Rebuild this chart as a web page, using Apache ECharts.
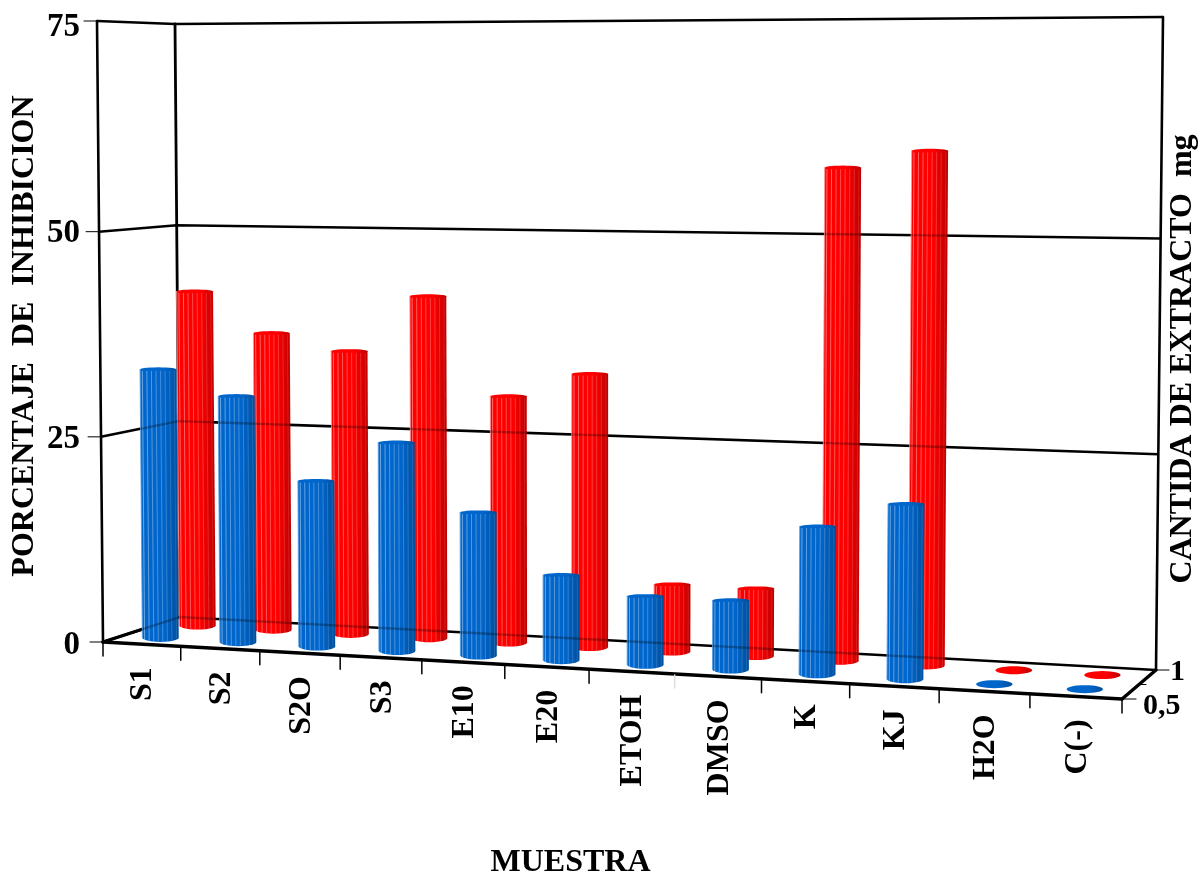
<!DOCTYPE html>
<html>
<head>
<meta charset="utf-8">
<title>Porcentaje de inhibicion</title>
<script src="https://cdn.jsdelivr.net/npm/echarts@6/dist/echarts.min.js"></script>
<style>
html,body{margin:0;padding:0;background:#fff}
#container{width:1200px;height:875px}
</style>
</head>
<body>
<div id="container"></div>
<script>
var categories=['S1','S2','S2O','S3','E10','E20','ETOH','DMSO','K','KJ','H2O','C(-)'];
var values05=[33,30,20,25,17,10,8,8,17,20,0,0];   // blue, 0,5 mg
var values1=[42,37,35,42,30,33,8,8,58,60,0,0];    // red, 1 mg
var yTicks=[0,25,50,75];
var depthLabels=['0,5','1'];

var FONT='"Liberation Serif"';
// plot box of the hidden cartesian grid
var GL=103,GT=27,GW=1019,GH=618;
// corners of the drawn box: floor and ceiling, front and back
var floorFL=[103,642],floorBL=[180,617],floorFR=[1122,699],floorBR=[1156,670];
var topFL=[97,21],topBL=[175,24],topFR=[1129,15],topBR=[1163,17];
var DEPTH_BLUE=0.25,DEPTH_RED=0.74;
var BAR_RX=18.2;

function mix(a,b,t){return [a[0]+(b[0]-a[0])*t,a[1]+(b[1]-a[1])*t];}
// the categories get wider to the right
function warp(u){return 0.908*u+0.092*u*u;}
function warpV(v){return v-0.04*v*v*(1-v);}
function project(u,v,d){
	var w=warp(u);
	var low=mix(mix(floorFL,floorFR,w),mix(floorBL,floorBR,w),d);
	var high=mix(mix(topFL,topFR,w),mix(topBL,topBR,w),d);
	return mix(low,high,warpV(v));
}
// pixel from the echarts axes -> point in the box
function toBox(api,cat,val,d){
	var p=api.coord([cat,val]);
	return project((p[0]-GL)/GW,(GT+GH-p[1])/GH,d);
}
function vOf(api,val){
	var p=api.coord([0,val]);
	return (GT+GH-p[1])/GH;
}
function line(a,b,w,color){
	return {type:'line',shape:{x1:a[0],y1:a[1],x2:b[0],y2:b[1]},style:{stroke:color||'#000',lineWidth:w,lineCap:'round'}};
}
function wallLines(api){
	var res=[];
	for(var i=0;i<yTicks.length;i++){
		var v=vOf(api,yTicks[i]);
		res.push([project(0,v,0),project(0,v,1),project(1,v,1)]);
	}
	return res;
}

function renderBox(params,api){
	var ch=[],i;
	var walls=wallLines(api);
	for(i=0;i<walls.length;i++){
		ch.push({type:'polyline',shape:{points:walls[i]},style:{stroke:'#000',fill:null,lineWidth:2.6}});
		ch.push(line([walls[i][0][0]-13,walls[i][0][1]],walls[i][0],1));
	}
	ch.push(line(project(0,0,0),project(0,1,0),2.6));
	ch.push(line(project(0,0,1),project(0,1,1),2.8));
	ch.push(line(project(1,0,1),project(1,1,1),2.6));
	ch.push(line(project(0,0,0),project(0,0,1),3.4));
	ch.push(line(project(1,0,0),project(1,0,1),3.4));
	ch.push(line(project(0,0,0),project(1,0,0),3.4));
	// ticks under the front edge
	for(i=0;i<=categories.length;i++){
		var t=project(i/categories.length,0,0);
		ch.push(line([t[0],t[1]+1],[t[0],t[1]+14],1.5,i==7?'#ddd':'#000'));
	}
	// depth ticks and labels
	ch.push(line(project(1,0,1),[project(1,0,1)[0]+13,project(1,0,1)[1]],1.2));
	ch.push(line(project(1,0,0),[project(1,0,0)[0]+14,project(1,0,0)[1]],1.2));
	var mid=project(1,0,0.5);
	ch.push(line(mid,[mid[0]+7,mid[1]],1));
	var lab0=project(1,0,0),lab1=project(1,0,1);
	ch.push({type:'text',x:lab0[0]+21,y:lab0[1]+7,style:{text:depthLabels[0],font:'bold 30px '+FONT,fill:'#000',textAlign:'left',textVerticalAlign:'middle'}});
	ch.push({type:'text',x:lab1[0]+14,y:lab1[1]+2,style:{text:depthLabels[1],font:'bold 30px '+FONT,fill:'#000',textAlign:'left',textVerticalAlign:'middle'}});
	return {type:'group',children:ch};
}

function arc(cx,cy,rx,ry,from,to,n){
	var pts=[];
	for(var i=0;i<=n;i++){
		var a=from+(to-from)*i/n;
		pts.push([cx+rx*Math.cos(a),cy+ry*Math.sin(a)]);
	}
	return pts;
}

function barRenderer(depth,light,main,dark){
	return function(params,api){
		var k=api.value(0),val=api.value(1);
		var b=toBox(api,k,0,depth),t=toBox(api,k,val,depth);
		var rx=BAR_RX;
		// top arc left to right, then bottom arc right to left
		var pts=arc(t[0],t[1],rx,val>0?2:4,Math.PI,2*Math.PI,14).concat(arc(b[0],b[1],rx,4,0,Math.PI,14));
		var ch=[{type:'polygon',shape:{points:pts},style:{
			fill:new echarts.graphic.LinearGradient(0,0,1,0,[
				{offset:0,color:main},{offset:0.6,color:main},{offset:1,color:dark}])
		}}];
		if(val>0){
			var n=8,walls=wallLines(api);
			for(var i=0;i<n;i++){
				var f=(i+0.5)/n*2-1;
				var alpha=(0.42-0.30*(i/(n-1))).toFixed(2);
				ch.push(line([t[0]+f*rx,t[1]+2],[b[0]+f*rx,b[1]+3],1,'rgba(255,255,255,'+alpha+')'));
			}
			ch.push(line([t[0]-rx,t[1]],[b[0]-rx,b[1]],1,light));
			// box lines stay faintly visible through the bar
			for(var j=0;j<walls.length;j++){
				ch.push({type:'polyline',shape:{points:walls[j]},
					style:{stroke:'rgba(0,0,0,0.28)',fill:null,lineWidth:2.4},
					clipPath:{type:'polygon',shape:{points:pts}}});
			}
		}
		return {type:'group',children:ch};
	};
}

function renderLabel(params,api){
	var k=api.value(0);
	var c=api.coord([k,0]);
	var p=project((c[0]-GL)/GW,0,0);
	return {type:'text',x:p[0]+1.5,y:p[1]+23,rotation:Math.PI/2,style:{
		text:categories[k],font:'bold 32px '+FONT,fill:'#000',textAlign:'right',textVerticalAlign:'middle'}};
}

function pairs(arr){
	var res=[];
	for(var i=0;i<arr.length;i++) res.push([i,arr[i]]);
	return res;
}

var myChart=echarts.init(document.getElementById('container'),null,{renderer:'canvas'});
var option={
	backgroundColor:'#fff',
	animation:false,
	grid:{left:GL,top:GT,width:GW,height:GH,containLabel:false,outerBoundsMode:'none'},
	xAxis:{
		type:'category',
		data:categories,
		name:'MUESTRA',
		nameLocation:'middle',
		nameGap:202,
		nameTextStyle:{fontFamily:FONT,fontWeight:'bold',fontSize:32,color:'#000',padding:[0,84,0,0]},
		axisLine:{show:false},axisTick:{show:false},axisLabel:{show:false},splitLine:{show:false}
	},
	yAxis:{
		type:'value',
		min:0,max:75,interval:25,
		name:'PORCENTAJE  DE  INHIBICION',
		nameLocation:'middle',
		nameRotate:90,
		nameGap:62,
		nameMoveOverlap:false,
		nameTextStyle:{fontFamily:FONT,fontWeight:'bold',fontSize:32,color:'#000'},
		axisLine:{show:false},axisTick:{show:false},splitLine:{show:false},
		axisLabel:{margin:23,fontFamily:FONT,fontWeight:'bold',fontSize:33,color:'#000'}
	},
	graphic:[{
		type:'text',x:1183,y:359,rotation:Math.PI/2,
		style:{text:'CANTIDA DE EXTRACTO  mg',font:'bold 32px '+FONT,fill:'#000',textAlign:'center',textVerticalAlign:'middle'}
	}],
	series:[
		{type:'custom',name:'box',silent:true,clip:false,z:1,data:[[0,0]],renderItem:renderBox},
		{type:'custom',name:'1 mg',silent:true,clip:false,z:2,data:pairs(values1),
			renderItem:barRenderer(DEPTH_RED,'rgba(255,150,150,0.9)','#FF0000','#BE0000')},
		{type:'custom',name:'0,5 mg',silent:true,clip:false,z:3,data:pairs(values05),
			renderItem:barRenderer(DEPTH_BLUE,'rgba(90,160,230,0.9)','#0066CC','#004E9C')},
		{type:'custom',name:'labels',silent:true,clip:false,z:4,data:pairs(categories.map(function(){return 0;})),renderItem:renderLabel}
	]
};
myChart.setOption(option);
</script>
</body>
</html>
